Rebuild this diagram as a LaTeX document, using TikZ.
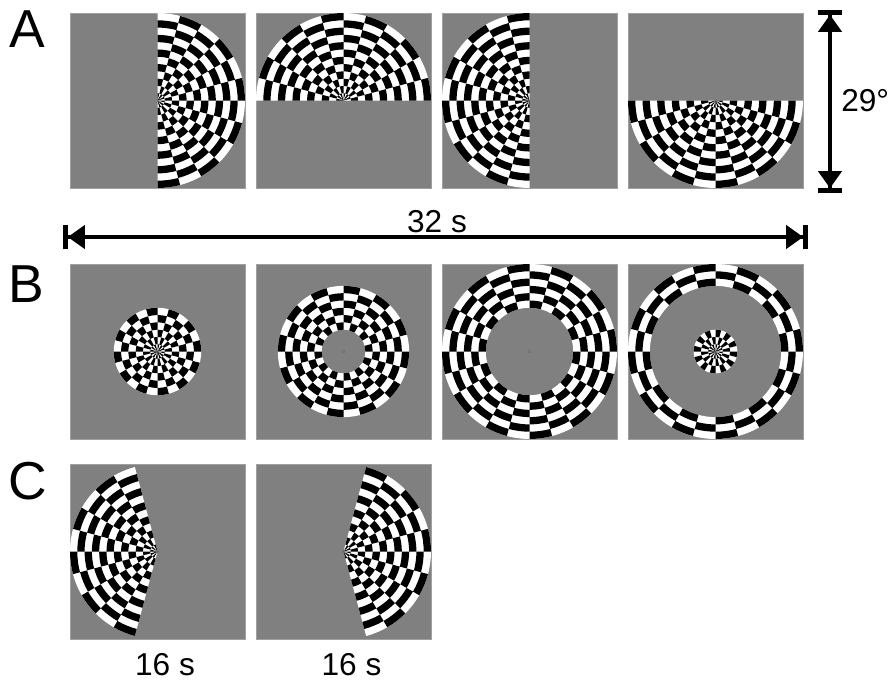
\documentclass[tikz,border=0pt]{standalone}
\usepackage{fontspec}
\setmainfont{Liberation Sans}
\usetikzlibrary{arrows.meta}
\definecolor{screengray}{RGB}{128,128,128}
\newcommand{\rstep}{7.29}
% rings #1..#2, wedges #3..#4 (15 deg each), around (0,0)
\newcommand{\checks}[4]{%
  \pgfmathsetmacro\rinner{max(#1*\rstep,0.01)}%
  \pgfmathsetmacro\router{(#2+1)*\rstep}%
  \fill[white] (#3*15:\router) arc[start angle=#3*15, end angle=#4*15+15, radius=\router]
    -- (#4*15+15:\rinner) arc[start angle=#4*15+15, end angle=#3*15, radius=\rinner] -- cycle;
  \foreach \k in {#1,...,#2}{%
    \foreach \j in {#3,...,#4}{%
      \pgfmathtruncatemacro\cellpar{mod(\k+\j+48,2)}%
      \ifnum\cellpar=0
        \pgfmathsetmacro\rinner{max(\k*\rstep,0.01)}%
        \pgfmathsetmacro\router{(\k+1)*\rstep}%
        \fill[black] (\j*15:\router) arc[start angle=\j*15, end angle=\j*15+15, radius=\router]
          -- (\j*15+15:\rinner) arc[start angle=\j*15+15, end angle=\j*15, radius=\rinner] -- cycle;
      \fi
    }}}

\begin{document}
\begin{tikzpicture}[x=0.25mm, y=-0.25mm,
  panel/.style={rectangle, fill=screengray, draw=screengray!75!white, line width=0.2pt,
                minimum size=43.75mm, inner sep=0pt, outer sep=0pt},
  fixdot/.style={rectangle, draw=black!55, line width=0.25pt, minimum size=0.5mm, inner sep=0pt},
  letter/.style={font=\fontsize{38}{38}\selectfont, inner sep=0pt},
  unit/.style={font=\fontsize{22.5}{22.5}\selectfont, inner sep=0pt},
  span/.style={line width=1mm,
    {Bar[width=6mm,line width=1.2mm]Triangle[length=4.25mm,width=5.75mm]}-{Triangle[length=4.25mm,width=5.75mm]Bar[width=6mm,line width=1.2mm]}},
]
\useasboundingbox (0,0) rectangle (889,680);

% A: rotating hemifields
\node[letter, anchor=base west] (labA) at (9,47) {A};
\node[panel] (a1) at (157.5,100.5) {};
\node[panel] (a2) at (343.5,100.5) {};
\node[panel] (a3) at (529.5,100.5) {};
\node[panel] (a4) at (715.5,100.5) {};
\begin{scope}[shift={(a1.center)}] \checks{0}{11}{-6}{5} \end{scope}
\begin{scope}[shift={(a2.center)}] \checks{0}{11}{-12}{-1} \end{scope}
\begin{scope}[shift={(a3.center)}] \checks{0}{11}{6}{17} \end{scope}
\begin{scope}[shift={(a4.center)}] \checks{0}{11}{0}{11} \end{scope}

\coordinate (fovT) at (830,10);
\coordinate (fovB) at (830,193);
\draw[span] (fovT) -- (fovB);
\node[unit, anchor=base west] (fov) at (841,111) {29°};

\coordinate (cycL) at (63,237);
\coordinate (cycR) at (808,237);
\draw[span] (cycL) -- (cycR);
\node[unit, anchor=base] (cyc) at (437,232) {32 s};

% B: expanding rings
\node[letter, anchor=base west] (labB) at (8,302) {B};
\node[panel] (b1) at (157.5,351.5) {};
\node[panel] (b2) at (343.5,351.5) {};
\node[panel] (b3) at (529.5,351.5) {};
\node[panel] (b4) at (715.5,351.5) {};
\begin{scope}[shift={(b1.center)}] \checks{0}{5}{0}{23} \end{scope}
\begin{scope}[shift={(b2.center)}] \checks{3}{8}{0}{23} \end{scope}
\begin{scope}[shift={(b3.center)}] \checks{6}{11}{0}{23} \end{scope}
\begin{scope}[shift={(b4.center)}] \checks{9}{11}{0}{23} \checks{0}{2}{0}{23} \end{scope}
\node[fixdot] (b2fix) at (b2.center) {};
\node[fixdot] (b3fix) at (b3.center) {};

% C: left / right wedges
\node[letter, anchor=base west] (labC) at (8,499) {C};
\node[panel] (c1) at (157.5,551.5) {};
\node[panel] (c2) at (343.5,551.5) {};
\begin{scope}[shift={(c1.center)}] \checks{0}{11}{7}{16} \end{scope}
\begin{scope}[shift={(c2.center)}] \checks{0}{11}{-5}{4} \end{scope}
\node[fixdot] (c1fix) at (c1.center) {};
\node[fixdot] (c2fix) at (c2.center) {};
\node[unit, anchor=base] (c1t) at (165,675) {16 s};
\node[unit, anchor=base] (c2t) at (351.5,675) {16 s};
\end{tikzpicture}
\end{document}
